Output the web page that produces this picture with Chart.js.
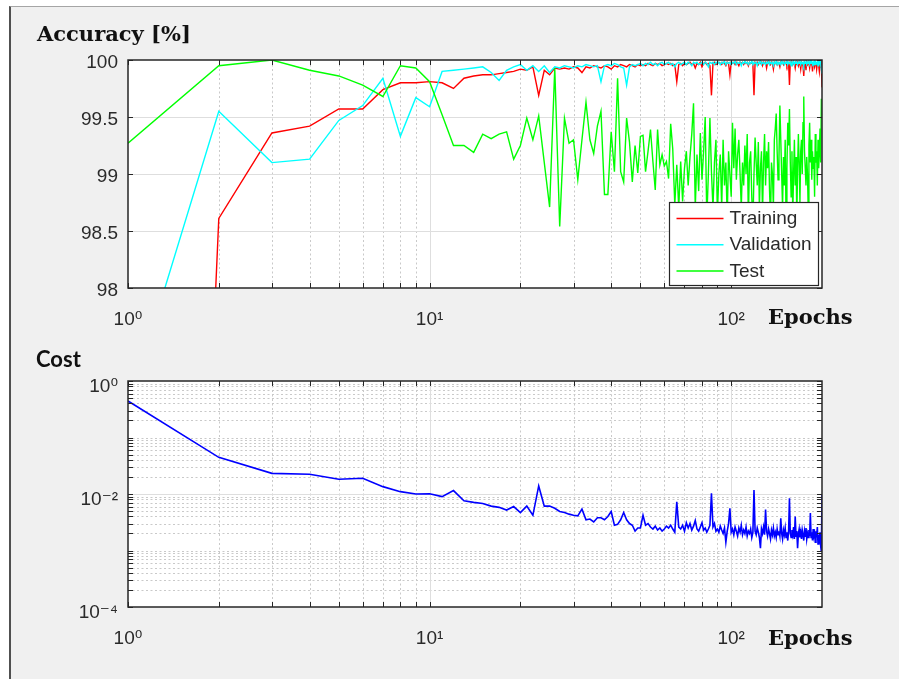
<!DOCTYPE html>
<html>
<head>
<meta charset="utf-8">
<script src="https://cdn.jsdelivr.net/npm/chart.js@4.4.1/dist/chart.umd.min.js"></script>
<style>
html,body{margin:0;padding:0;background:#ffffff;width:899px;height:679px;overflow:hidden;}
#frame{position:absolute;left:9px;top:6px;width:890px;height:673px;background:#f0f0f0;border-left:2px solid #505050;border-top:1px solid #a5a5a5;box-sizing:border-box;}
canvas{position:absolute;left:0;}
#acc{top:0;}
#cost{top:340px;}
</style>
</head>
<body>
<div id="frame"></div>
<canvas id="acc" width="899" height="340"></canvas>
<canvas id="cost" width="899" height="339"></canvas>
<script>
// ---------------- data (one value per epoch, epochs 1..200) ----------------
const training = [
80.5,98.61,99.36,99.42,99.57,99.57,99.74,99.80,99.80,99.81,
99.80,99.75,99.84,99.86,99.87,99.87,99.88,99.89,99.90,99.92,
99.91,99.94,99.69,99.91,99.87,99.93,99.92,99.93,99.92,99.94,
99.93,99.89,99.94,99.93,99.95,99.94,99.93,99.95,99.94,99.92,
99.95,99.94,99.96,99.95,99.94,99.96,99.95,99.94,99.96,99.95,
99.96,99.95,99.97,99.96,99.95,99.97,99.96,99.97,99.95,99.96,
99.97,99.96,99.97,99.95,99.96,99.81,99.96,99.97,99.95,99.97,
99.96,99.97,99.98,99.96,99.97,99.93,99.97,99.96,99.98,99.94,
99.97,99.98,99.96,99.97,99.95,99.69,99.97,99.98,99.96,99.97,
99.98,99.97,99.96,99.98,99.97,99.95,99.98,99.97,99.87,99.98,
99.97,99.98,99.96,99.98,99.97,99.95,99.98,99.97,99.98,99.96,
99.98,99.97,99.98,99.95,99.98,99.97,99.98,99.96,99.69,99.98,
99.97,99.98,99.96,99.98,99.97,99.98,99.95,99.98,99.97,99.98,
99.93,99.98,99.97,99.98,99.96,99.98,99.97,99.92,99.98,99.97,
99.98,99.96,99.98,99.97,99.94,99.98,99.97,99.98,99.96,99.98,
99.97,99.98,99.95,99.98,99.97,99.78,99.98,99.97,99.98,99.96,
99.98,99.97,99.93,99.98,99.97,99.98,99.95,99.98,99.97,99.92,
99.98,99.97,99.95,99.86,99.98,99.97,99.91,99.98,99.96,99.98,
99.97,99.93,99.98,99.96,99.98,99.90,99.97,99.98,99.94,99.97,
99.98,99.92,99.97,99.98,99.95,99.90,99.97,99.93,99.96,99.76];

const validation = [
96.94,99.55,99.10,99.13,99.47,99.60,99.84,99.33,99.67,99.59,
99.90,99.91,99.92,99.93,99.94,99.89,99.82,99.91,99.94,99.96,
99.91,99.95,99.90,99.95,99.89,99.94,99.93,99.95,99.94,99.93,
99.95,99.94,99.96,99.95,99.94,99.95,99.81,99.95,99.96,99.95,
99.97,99.96,99.94,99.93,99.78,99.94,99.96,99.95,99.96,99.97,
99.95,99.97,99.96,99.98,99.96,99.97,99.95,99.97,99.98,99.96,
99.97,99.98,99.96,99.97,99.94,99.97,99.98,99.96,99.97,99.98,
99.96,99.98,99.97,99.95,99.98,99.97,99.98,99.96,99.97,99.98,
99.96,99.98,99.97,99.94,99.98,99.97,99.98,99.96,99.98,99.97,
99.98,99.96,99.98,99.97,99.99,99.96,99.98,99.97,99.98,99.96,
99.98,99.97,99.99,99.96,99.98,99.97,99.98,99.95,99.98,99.97,
99.99,99.97,99.98,99.96,99.98,99.97,99.99,99.96,99.98,99.97,
99.98,99.95,99.98,99.97,99.99,99.96,99.98,99.97,99.98,99.96,
99.98,99.97,99.99,99.96,99.98,99.97,99.98,99.95,99.98,99.97,
99.99,99.96,99.98,99.97,99.98,99.96,99.99,99.97,99.98,99.96,
99.98,99.97,99.99,99.96,99.98,99.97,99.98,99.95,99.98,99.97,
99.99,99.96,99.98,99.97,99.98,99.96,99.98,99.97,99.99,99.96,
99.98,99.97,99.98,99.95,99.98,99.97,99.99,99.96,99.98,99.97,
99.98,99.96,99.99,99.97,99.98,99.96,99.98,99.97,99.99,99.96,
99.98,99.97,99.98,99.95,99.98,99.97,99.99,99.96,99.92,99.88];

const test = [
99.27,99.95,100.0,99.91,99.86,99.78,99.68,99.95,99.93,99.81,
99.52,99.25,99.25,99.19,99.35,99.31,99.35,99.37,99.13,99.25,
99.49,99.30,99.51,99.10,98.71,99.93,98.54,99.49,99.27,99.30,
98.95,99.30,99.63,99.30,99.18,99.42,99.55,98.82,98.82,99.37,
99.02,99.84,99.02,98.93,99.49,99.28,98.93,99.25,99.01,99.33,
99.34,99.02,99.20,99.39,99.11,98.86,99.39,99.08,99.17,99.07,
99.11,98.96,99.44,99.22,98.73,99.08,98.70,99.11,98.76,99.05,
99.20,98.90,99.15,99.35,99.62,98.70,99.17,98.85,99.36,98.95,
99.20,99.50,98.60,99.00,99.49,99.02,98.70,99.10,99.30,98.65,
99.00,99.17,98.70,99.30,98.90,99.10,98.60,99.20,99.00,98.80,
99.45,99.05,99.40,98.95,99.17,99.30,99.00,98.70,99.10,98.90,
99.25,99.00,99.35,98.60,99.10,99.20,98.80,98.55,99.00,99.32,
99.10,98.90,99.28,98.70,99.05,99.20,98.65,99.10,99.35,98.90,
99.20,99.05,99.28,98.85,98.60,99.10,99.00,98.70,99.30,99.40,
99.53,99.20,98.95,99.15,99.60,99.30,99.00,98.70,99.15,98.90,
99.30,98.60,99.05,99.45,99.25,99.57,99.10,98.80,99.20,98.65,
99.00,99.30,98.90,99.15,98.60,99.05,99.35,99.10,98.75,99.20,
99.30,99.00,99.45,99.68,99.20,99.05,98.90,99.15,99.00,98.70,
99.25,99.45,99.10,99.30,98.95,99.20,99.05,99.15,98.80,99.35,
99.10,99.20,98.90,99.30,99.05,99.20,99.40,99.10,99.66,99.48];

const cost = [
0.443,0.0446,0.0232,0.0223,0.0182,0.0190,0.0135,0.0110,0.0100,0.0101,
0.0090,0.0115,0.0076,0.0071,0.0068,0.0061,0.0058,0.0052,0.0060,0.0047,
0.0061,0.0042,0.0139,0.0061,0.0061,0.0056,0.0049,0.0047,0.0044,0.0042,
0.0041,0.0054,0.0035,0.0036,0.0032,0.0038,0.0038,0.0035,0.0040,0.0049,
0.0028,0.0029,0.0035,0.0047,0.0035,0.0030,0.0028,0.0022,0.0025,0.0025,
0.0042,0.0028,0.0030,0.0026,0.0024,0.0027,0.0023,0.0025,0.0022,0.0024,
0.0027,0.0025,0.0028,0.0024,0.0021,0.0073,0.0026,0.0024,0.0028,0.0022,
0.0031,0.0025,0.0030,0.0023,0.0027,0.0034,0.0024,0.0022,0.0026,0.0031,
0.0023,0.0025,0.0021,0.0024,0.0028,0.0103,0.0026,0.0030,0.0022,0.0024,
0.0021,0.0027,0.0023,0.0020,0.0025,0.0014,0.0022,0.0030,0.0056,0.0021,
0.0024,0.0019,0.0026,0.0022,0.0018,0.0025,0.0021,0.0028,0.0019,0.0023,
0.0020,0.0026,0.0018,0.0022,0.0020,0.0024,0.0017,0.0021,0.0118,0.0022,
0.0019,0.0025,0.0021,0.0017,0.0011,0.0024,0.0020,0.0026,0.0019,0.0053,
0.0022,0.0018,0.0024,0.0020,0.0016,0.0023,0.0019,0.0025,0.0018,0.0021,
0.0017,0.0024,0.0019,0.0022,0.0018,0.0037,0.0020,0.0016,0.0023,0.0019,
0.0025,0.0017,0.0021,0.0015,0.0022,0.0084,0.0020,0.0017,0.0023,0.0019,
0.0026,0.0016,0.0040,0.0018,0.0022,0.0011,0.0020,0.0024,0.0017,0.0021,
0.0016,0.0023,0.0019,0.0015,0.0022,0.0018,0.0025,0.0016,0.0020,0.0017,
0.0023,0.0018,0.0046,0.0017,0.0021,0.0015,0.0024,0.0018,0.0020,0.0014,
0.0022,0.0017,0.0026,0.0013,0.0019,0.0016,0.0021,0.0012,0.00095,0.0096];

// epoch number of each value (its position in the series)
const epochs = training.map((_, i) => i + 1);

// ---------------- tick labels / grid positions ----------------
const xTickValues = [1, 10, 100];
const xTickLabels = ['10\u2070', '10\u00B9', '10\u00B2'];
const xMinorGrid = [2,3,4,5,6,7,8,9,20,30,40,50,60,70,80,90];
const xMajorGrid = [10, 100];

const accTickValues = [98, 98.5, 99, 99.5, 100];
const accTickLabels = ['98', '98.5', '99', '99.5', '100'];
const accMajorGrid = [98.5, 99, 99.5];

const costTickValues = [1e-4, 1e-2, 1];
const costTickLabels = ['10\u207B\u2074', '10\u207B\u00B2', '10\u2070'];
const costMajorGrid = [1e-2];
const costMinorGrid = [
  2e-4,3e-4,4e-4,5e-4,6e-4,7e-4,8e-4,9e-4,1e-3,
  2e-3,3e-3,4e-3,5e-3,6e-3,7e-3,8e-3,9e-3,
  2e-2,3e-2,4e-2,5e-2,6e-2,7e-2,8e-2,9e-2,1e-1,
  2e-1,3e-1,4e-1,5e-1,6e-1,7e-1,8e-1,9e-1];

// ---------------- styling ----------------
const TICK_FONT = {family: "'Liberation Sans', Arial, 'DejaVu Sans', sans-serif", size: 19};
const TICK_COLOR = '#2a2a2a';
const SERIF_BOLD = {family: "'DejaVu Serif', serif", size: 21, weight: 'bold', lineHeight: 1.2};

// MATLAB-like axes: white plot area, dotted minor / solid major grid,
// box with inward ticks, inset legend and the "Epochs" label.
const matlabAxes = {
  id: 'matlabAxes',
  beforeDraw(chart) {
    const {ctx, chartArea: a} = chart;
    ctx.save();
    ctx.fillStyle = '#ffffff';
    ctx.fillRect(a.left, a.top, a.right - a.left, a.bottom - a.top);
    ctx.restore();
  },
  beforeDatasetsDraw(chart, args, o) {
    const {ctx, chartArea: a, scales} = chart;
    const x = scales.x, y = scales.y;
    const vl = v => { const p = Math.round(x.getPixelForValue(v)) + 0.5; ctx.beginPath(); ctx.moveTo(p, a.top); ctx.lineTo(p, a.bottom); ctx.stroke(); };
    const hl = v => { const p = Math.round(y.getPixelForValue(v)) + 0.5; ctx.beginPath(); ctx.moveTo(a.left, p); ctx.lineTo(a.right, p); ctx.stroke(); };
    ctx.save();
    ctx.lineWidth = 1;
    ctx.strokeStyle = '#c9c9c9';
    ctx.setLineDash([2, 2.5]);
    o.xMinor.forEach(vl);
    o.yMinor.forEach(hl);
    ctx.setLineDash([]);
    ctx.strokeStyle = '#dedede';
    o.xMajor.forEach(vl);
    o.yMajor.forEach(hl);
    ctx.restore();
  },
  afterDatasetsDraw(chart, args, o) {
    const {ctx, chartArea: a, scales} = chart;
    const x = scales.x, y = scales.y;
    ctx.save();
    // ticks (inward, all four sides)
    ctx.strokeStyle = '#262626';
    ctx.lineWidth = 1;
    const TL = 5;
    o.xTicks.forEach(v => {
      const p = Math.round(x.getPixelForValue(v)) + 0.5;
      ctx.beginPath();
      ctx.moveTo(p, a.bottom); ctx.lineTo(p, a.bottom - TL);
      ctx.moveTo(p, a.top); ctx.lineTo(p, a.top + TL);
      ctx.stroke();
    });
    o.yTicks.forEach(v => {
      const p = Math.round(y.getPixelForValue(v)) + 0.5;
      ctx.beginPath();
      ctx.moveTo(a.left, p); ctx.lineTo(a.left + TL, p);
      ctx.moveTo(a.right, p); ctx.lineTo(a.right - TL, p);
      ctx.stroke();
    });
    // box
    ctx.lineWidth = 1.5;
    ctx.strokeRect(a.left, a.top, a.right - a.left, a.bottom - a.top);

    // inset legend (bottom-right, drawn over the lines)
    if (o.legend) {
      const w = 149, h = 83;
      const bx = Math.round(a.right - 4 - w) + 0.5, by = Math.round(a.bottom - 3 - h) + 0.5;
      ctx.fillStyle = '#ffffff';
      ctx.fillRect(bx, by, w, h);
      ctx.lineWidth = 1.2;
      ctx.strokeStyle = '#262626';
      ctx.strokeRect(bx, by, w, h);
      ctx.font = `${TICK_FONT.size}px ${TICK_FONT.family}`;
      ctx.textAlign = 'left';
      ctx.textBaseline = 'middle';
      chart.data.datasets.forEach((ds, i) => {
        const ly = by + 16 + i * 26.2;
        ctx.strokeStyle = ds.borderColor;
        ctx.lineWidth = 1.5;
        ctx.beginPath(); ctx.moveTo(bx + 7, ly); ctx.lineTo(bx + 54, ly); ctx.stroke();
        ctx.fillStyle = TICK_COLOR;
        ctx.fillText(ds.label, bx + 60, ly + 0.5);
      });
    }

    // x-axis name, MATLAB style: right of the last tick label
    const t = chart.config.options.scales.x.title;
    ctx.font = `bold ${SERIF_BOLD.size}px ${SERIF_BOLD.family}`;
    ctx.fillStyle = '#111111';
    ctx.textAlign = 'left';
    ctx.textBaseline = 'alphabetic';
    ctx.fillText(t.text, o.labelX, a.bottom + o.labelDy);
    ctx.restore();
  }
};

function setTicks(values) {
  return s => { s.ticks = values.map(v => ({value: v})); };
}
function labelFor(values, labels) {
  return v => { const i = values.findIndex(t => Math.abs(t - v) < 1e-9 * Math.max(1, Math.abs(t))); return i >= 0 ? labels[i] : ''; };
}

const common = {
  responsive: false,
  animation: false,
  devicePixelRatio: 1,
  events: [],
  elements: {point: {radius: 0}, line: {borderWidth: 1.4, tension: 0}},
};

function xAxis() {
  return {
    type: 'logarithmic', min: 1, max: 200,
    grid: {display: false, drawTicks: false},
    border: {display: false},
    afterBuildTicks: setTicks(xTickValues),
    afterFit: s => { s.height = 40; },
    ticks: {autoSkip: false, maxRotation: 0, minRotation: 0, padding: 20, font: TICK_FONT, color: TICK_COLOR,
            callback: labelFor(xTickValues, xTickLabels)},
    title: {display: false, text: 'Epochs', font: SERIF_BOLD, color: '#111111'}
  };
}

// ---------------- Accuracy chart ----------------
new Chart(document.getElementById('acc'), {
  type: 'line',
  data: {
    labels: epochs,
    datasets: [
      {label: 'Training', data: training, borderColor: '#ff0000', backgroundColor: '#ff0000', order: 3},
      {label: 'Validation', data: validation, borderColor: '#00ffff', backgroundColor: '#00ffff', order: 2},
      {label: 'Test', data: test, borderColor: '#00ff00', backgroundColor: '#00ff00', order: 1}
    ]
  },
  options: Object.assign({}, common, {
    layout: {padding: {left: 37, right: 77, top: 23, bottom: 12}},
    plugins: {
      legend: {display: false},
      tooltip: {enabled: false},
      title: {display: true, text: 'Accuracy [%]', align: 'start', color: '#111111', font: SERIF_BOLD, padding: {top: 0, bottom: 11.8}},
      matlabAxes: {xMinor: xMinorGrid, xMajor: xMajorGrid, yMinor: [], yMajor: accMajorGrid,
                   xTicks: xTickValues.concat(xMinorGrid), yTicks: accTickValues,
                   legend: true, labelX: 768, labelDy: 36}
    },
    scales: {
      x: xAxis(),
      y: {
        type: 'linear', min: 98, max: 100,
        grid: {display: false, drawTicks: false},
        border: {display: false},
        afterBuildTicks: setTicks(accTickValues),
        afterFit: s => { s.width = 91; },
        ticks: {padding: 10, labelOffset: 2.5, font: TICK_FONT, color: TICK_COLOR, callback: labelFor(accTickValues, accTickLabels)}
      }
    }
  }),
  plugins: [matlabAxes]
});

// ---------------- Cost chart ----------------
new Chart(document.getElementById('cost'), {
  type: 'line',
  data: {
    labels: epochs,
    datasets: [
      {label: 'Cost', data: cost, borderColor: '#0000ff', backgroundColor: '#0000ff', borderWidth: 1.6}
    ]
  },
  options: Object.assign({}, common, {
    layout: {padding: {left: 36, right: 77, top: 6.3, bottom: 32}},
    plugins: {
      legend: {display: false},
      tooltip: {enabled: false},
      title: {display: true, text: 'Cost', align: 'start', color: '#111111',
              font: {family: "Lato, 'Open Sans', sans-serif", size: 22, weight: 'bold', lineHeight: 1.2},
              padding: {top: 0, bottom: 8.3}},
      matlabAxes: {xMinor: xMinorGrid, xMajor: xMajorGrid, yMinor: costMinorGrid, yMajor: costMajorGrid,
                   xTicks: xTickValues.concat(xMinorGrid), yTicks: costTickValues.concat(costMinorGrid),
                   legend: false, labelX: 768, labelDy: 38}
    },
    scales: {
      x: xAxis(),
      y: {
        type: 'logarithmic', min: 1e-4, max: 1,
        grid: {display: false, drawTicks: false},
        border: {display: false},
        afterBuildTicks: setTicks(costTickValues),
        afterFit: s => { s.width = 92; },
        ticks: {padding: 10, labelOffset: 6, font: TICK_FONT, color: TICK_COLOR, callback: labelFor(costTickValues, costTickLabels)}
      }
    }
  }),
  plugins: [matlabAxes]
});
</script>
</body>
</html>
